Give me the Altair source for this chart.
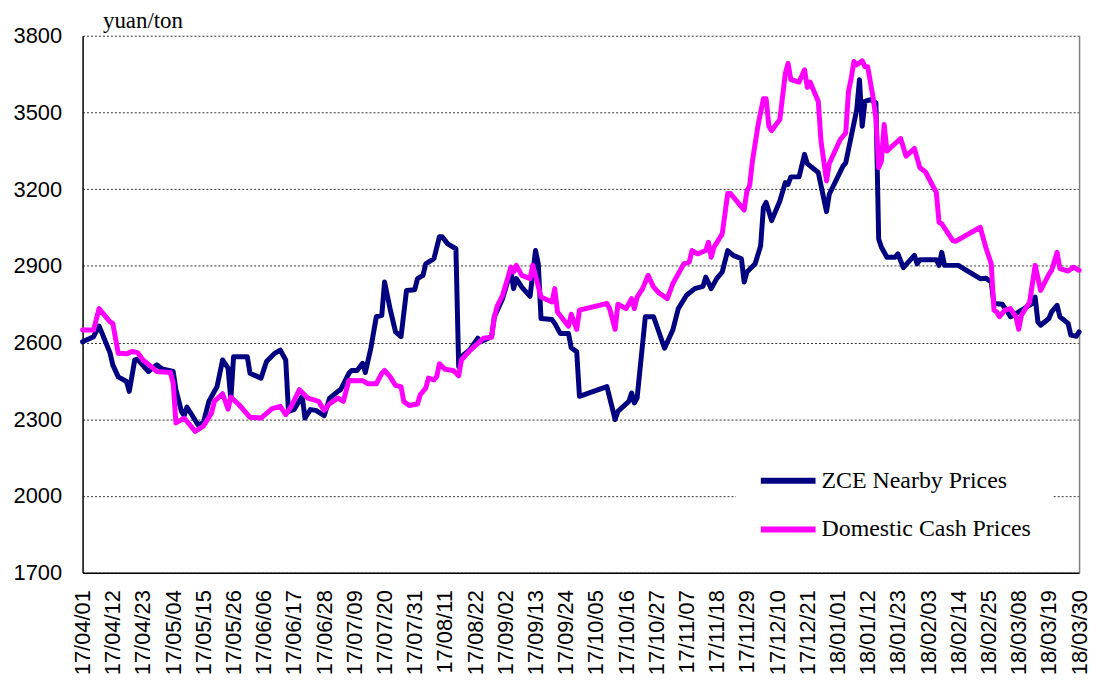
import altair as alt
import pandas as pd

series_names = ["ZCE Nearby Prices", "Domestic Cash Prices"]
series_colors = ["#000080", "#FF00FF"]
y_ticks = [1700, 2000, 2300, 2600, 2900, 3200, 3500, 3800]
x_tick_dates = [
    "2017-04-01", "2017-04-12", "2017-04-23", "2017-05-04", "2017-05-15", "2017-05-26",
    "2017-06-06", "2017-06-17", "2017-06-28", "2017-07-09", "2017-07-20", "2017-07-31",
    "2017-08-11", "2017-08-22", "2017-09-02", "2017-09-13", "2017-09-24", "2017-10-05",
    "2017-10-16", "2017-10-27", "2017-11-07", "2017-11-18", "2017-11-29", "2017-12-10",
    "2017-12-21", "2018-01-01", "2018-01-12", "2018-01-23", "2018-02-03", "2018-02-14",
    "2018-02-25", "2018-03-08", "2018-03-19", "2018-03-30",
]

zce_dates = [
    "2017-04-01", "2017-04-05", "2017-04-07", "2017-04-11", "2017-04-12", "2017-04-14", "2017-04-17", "2017-04-18", "2017-04-20", "2017-04-21",
    "2017-04-25", "2017-04-28", "2017-04-30", "2017-05-04", "2017-05-05", "2017-05-07", "2017-05-08", "2017-05-09", "2017-05-11", "2017-05-13",
    "2017-05-15", "2017-05-17", "2017-05-20", "2017-05-22", "2017-05-24", "2017-05-25", "2017-05-26", "2017-05-31", "2017-06-01", "2017-06-05",
    "2017-06-07", "2017-06-10", "2017-06-12", "2017-06-14", "2017-06-15", "2017-06-17", "2017-06-20", "2017-06-21", "2017-06-23", "2017-06-25",
    "2017-06-28", "2017-06-30", "2017-07-03", "2017-07-04", "2017-07-07", "2017-07-08", "2017-07-10", "2017-07-12", "2017-07-13", "2017-07-15",
    "2017-07-17", "2017-07-19", "2017-07-20", "2017-07-22", "2017-07-24", "2017-07-26", "2017-07-28", "2017-07-31", "2017-08-01", "2017-08-03",
    "2017-08-04", "2017-08-07", "2017-08-09", "2017-08-10", "2017-08-12", "2017-08-15", "2017-08-16", "2017-08-17", "2017-08-20", "2017-08-23",
    "2017-08-24", "2017-08-28", "2017-08-29", "2017-09-01", "2017-09-04", "2017-09-05", "2017-09-06", "2017-09-08", "2017-09-11", "2017-09-13",
    "2017-09-14", "2017-09-15", "2017-09-19", "2017-09-20", "2017-09-22", "2017-09-25", "2017-09-26", "2017-09-28", "2017-09-29", "2017-10-09",
    "2017-10-12", "2017-10-13", "2017-10-17", "2017-10-18", "2017-10-19", "2017-10-20", "2017-10-23", "2017-10-26", "2017-10-30", "2017-11-02",
    "2017-11-04", "2017-11-07", "2017-11-10", "2017-11-13", "2017-11-14", "2017-11-16", "2017-11-18", "2017-11-20", "2017-11-22", "2017-11-24",
    "2017-11-27", "2017-11-28", "2017-11-29", "2017-12-02", "2017-12-04", "2017-12-05", "2017-12-06", "2017-12-08", "2017-12-11", "2017-12-13",
    "2017-12-14", "2017-12-15", "2017-12-18", "2017-12-20", "2017-12-21", "2017-12-25", "2017-12-28", "2017-12-29", "2018-01-03", "2018-01-04",
    "2018-01-06", "2018-01-08", "2018-01-09", "2018-01-10", "2018-01-11", "2018-01-13", "2018-01-15", "2018-01-16", "2018-01-17", "2018-01-19",
    "2018-01-22", "2018-01-23", "2018-01-25", "2018-01-29", "2018-01-30", "2018-01-31", "2018-02-06", "2018-02-07", "2018-02-08", "2018-02-09",
    "2018-02-14", "2018-02-17", "2018-02-22", "2018-02-24", "2018-02-26", "2018-02-27", "2018-03-02", "2018-03-04", "2018-03-05", "2018-03-08",
    "2018-03-10", "2018-03-13", "2018-03-14", "2018-03-15", "2018-03-16", "2018-03-19", "2018-03-20", "2018-03-22", "2018-03-23", "2018-03-26",
    "2018-03-27", "2018-03-29", "2018-03-30",
]
zce_values = [
    2603, 2623, 2665, 2560, 2513, 2466, 2448, 2409, 2532, 2535,
    2487, 2513, 2497, 2487, 2416, 2331, 2314, 2348, 2314, 2279,
    2286, 2370, 2428, 2532, 2500, 2377, 2545, 2545, 2480, 2461,
    2526, 2558, 2571, 2532, 2331, 2338, 2390, 2305, 2338, 2335,
    2314, 2383, 2409, 2416, 2480, 2491, 2491, 2519, 2483, 2578,
    2701, 2707, 2837, 2733, 2642, 2623, 2804, 2807, 2850, 2863,
    2908, 2928, 3014, 3014, 2986, 2967, 2506, 2545, 2571, 2617,
    2603, 2623, 2701, 2772, 2882, 2811, 2850, 2817, 2781, 2960,
    2908, 2694, 2690, 2675, 2636, 2636, 2580, 2564, 2390, 2428,
    2299, 2331, 2370, 2403, 2364, 2383, 2701, 2701, 2578, 2649,
    2733, 2785, 2811, 2820, 2856, 2811, 2850, 2876, 2960, 2941,
    2928, 2837, 2876, 2908, 2979, 3128, 3148, 3077, 3154, 3226,
    3219, 3248, 3248, 3336, 3300, 3265, 3112, 3180, 3290, 3303,
    3407, 3511, 3628, 3446, 3543, 3550, 3537, 3005, 2973, 2934,
    2934, 2947, 2893, 2941, 2908, 2924, 2924, 2902, 2953, 2902,
    2902, 2882, 2850, 2852, 2837, 2753, 2750, 2720, 2701, 2720,
    2733, 2753, 2778, 2681, 2668, 2694, 2720, 2746, 2701, 2675,
    2629, 2625, 2642,
]

cash_dates = [
    "2017-04-01", "2017-04-05", "2017-04-07", "2017-04-11", "2017-04-12", "2017-04-14", "2017-04-17", "2017-04-19", "2017-04-21", "2017-04-23",
    "2017-04-26", "2017-04-28", "2017-05-03", "2017-05-04", "2017-05-05", "2017-05-08", "2017-05-10", "2017-05-12", "2017-05-15", "2017-05-18",
    "2017-05-19", "2017-05-22", "2017-05-24", "2017-05-25", "2017-05-28", "2017-06-01", "2017-06-05", "2017-06-09", "2017-06-12", "2017-06-14",
    "2017-06-16", "2017-06-19", "2017-06-22", "2017-06-24", "2017-06-26", "2017-06-28", "2017-06-30", "2017-07-03", "2017-07-05", "2017-07-07",
    "2017-07-12", "2017-07-14", "2017-07-17", "2017-07-19", "2017-07-20", "2017-07-22", "2017-07-24", "2017-07-26", "2017-07-27", "2017-07-29",
    "2017-08-01", "2017-08-02", "2017-08-04", "2017-08-05", "2017-08-07", "2017-08-08", "2017-08-09", "2017-08-11", "2017-08-14", "2017-08-16",
    "2017-08-17", "2017-08-20", "2017-08-23", "2017-08-25", "2017-08-28", "2017-08-29", "2017-08-30", "2017-09-01", "2017-09-03", "2017-09-04",
    "2017-09-05", "2017-09-06", "2017-09-08", "2017-09-11", "2017-09-12", "2017-09-15", "2017-09-19", "2017-09-20", "2017-09-21", "2017-09-25",
    "2017-09-26", "2017-09-28", "2017-09-29", "2017-10-09", "2017-10-10", "2017-10-12", "2017-10-13", "2017-10-16", "2017-10-18", "2017-10-19",
    "2017-10-20", "2017-10-22", "2017-10-24", "2017-10-26", "2017-10-28", "2017-10-31", "2017-11-02", "2017-11-06", "2017-11-08", "2017-11-09",
    "2017-11-11", "2017-11-14", "2017-11-15", "2017-11-16", "2017-11-17", "2017-11-20", "2017-11-21", "2017-11-22", "2017-11-23", "2017-11-28",
    "2017-11-29", "2017-11-30", "2017-12-01", "2017-12-03", "2017-12-05", "2017-12-06", "2017-12-07", "2017-12-08", "2017-12-11", "2017-12-13",
    "2017-12-14", "2017-12-15", "2017-12-18", "2017-12-20", "2017-12-21", "2017-12-22", "2017-12-25", "2017-12-26", "2017-12-28", "2017-12-29",
    "2018-01-02", "2018-01-03", "2018-01-04", "2018-01-05", "2018-01-06", "2018-01-07", "2018-01-08", "2018-01-10", "2018-01-11", "2018-01-12",
    "2018-01-14", "2018-01-15", "2018-01-16", "2018-01-17", "2018-01-18", "2018-01-19", "2018-01-24", "2018-01-26", "2018-01-29", "2018-01-31",
    "2018-02-02", "2018-02-06", "2018-02-07", "2018-02-08", "2018-02-12", "2018-02-13", "2018-02-22", "2018-02-24", "2018-02-26", "2018-02-27",
    "2018-02-28", "2018-03-01", "2018-03-03", "2018-03-05", "2018-03-07", "2018-03-08", "2018-03-09", "2018-03-12", "2018-03-14", "2018-03-16",
    "2018-03-19", "2018-03-20", "2018-03-22", "2018-03-23", "2018-03-26", "2018-03-28", "2018-03-30",
]
cash_values = [
    2649, 2649, 2733, 2681, 2675, 2558, 2556, 2565, 2561, 2532,
    2506, 2487, 2483, 2442, 2286, 2305, 2279, 2253, 2273, 2325,
    2370, 2400, 2340, 2387, 2357, 2308, 2305, 2342, 2351, 2318,
    2351, 2416, 2383, 2377, 2370, 2335, 2361, 2383, 2370, 2452,
    2451, 2439, 2439, 2480, 2491, 2467, 2432, 2428, 2370, 2354,
    2360, 2396, 2422, 2461, 2454, 2467, 2517, 2496, 2491, 2470,
    2532, 2568, 2597, 2617, 2621, 2701, 2742, 2785, 2856, 2895,
    2876, 2902, 2863, 2850, 2902, 2778, 2759, 2811, 2720, 2664,
    2711, 2652, 2727, 2753, 2733, 2652, 2750, 2733, 2772, 2733,
    2778, 2811, 2863, 2817, 2794, 2772, 2830, 2908, 2915, 2960,
    2947, 2960, 2992, 2934, 2973, 3025, 3103, 3183, 3183, 3118,
    3193, 3213, 3310, 3446, 3554, 3554, 3446, 3429, 3472, 3653,
    3692, 3628, 3619, 3667, 3598, 3619, 3543, 3388, 3232, 3300,
    3394, 3407, 3420, 3582, 3634, 3699, 3686, 3702, 3679, 3679,
    3556, 3478, 3284, 3310, 3453, 3349, 3398, 3329, 3359, 3284,
    3268, 3187, 3070, 3064, 2999, 2996, 3051, 2973, 2908, 2727,
    2720, 2701, 2727, 2733, 2701, 2652, 2707, 2759, 2902, 2804,
    2867, 2882, 2953, 2889, 2880, 2895, 2882,
]


def to_dt(s):
    y, m, d = (int(p) for p in s.split("-"))
    return alt.DateTime(year=y, month=m, date=d)


zce_df = pd.DataFrame({
    "date": [d + "T00:00:00" for d in zce_dates],
    "price": zce_values,
    "series": series_names[0],
})
cash_df = pd.DataFrame({
    "date": [d + "T00:00:00" for d in cash_dates],
    "price": cash_values,
    "series": series_names[1],
})

x_enc = alt.X(
    "date:T",
    title=None,
    scale=alt.Scale(domain=[to_dt(x_tick_dates[0]), to_dt(x_tick_dates[-1])]),
    axis=alt.Axis(
        values=[to_dt(d) for d in x_tick_dates],
        format="%y/%m/%d",
        labelAngle=-90,
        labelFont="Liberation Sans",
        labelFontSize=22,
        labelColor="black",
        labelPadding=17,
        labelOverlap=False,
        labelFlush=False,
        labelBound=False,
        ticks=False,
        grid=False,
        domainColor="black",
        domainWidth=1.5,
    ),
)

y_scale = alt.Scale(domain=[1700, 3800], nice=False, zero=False)

color_enc = alt.Color(
    "series:N",
    scale=alt.Scale(domain=series_names, range=series_colors),
    legend=alt.Legend(
        title=None,
        orient="none",
        legendX=657,
        legendY=395,
        fillColor="white",
        padding=22,
        labelFont="Liberation Serif",
        labelFontSize=24,
        labelColor="black",
        labelOffset=3,
        labelLimit=400,
        symbolType="stroke",
        symbolSize=3025,
        symbolStrokeWidth=6,
        rowPadding=6,
    ),
)

zce_layer = alt.Chart(zce_df).mark_line(strokeWidth=5, strokeJoin="round", strokeCap="round").encode(
    x=x_enc,
    y=alt.Y(
        "price:Q",
        scale=y_scale,
        axis=alt.Axis(
            values=y_ticks,
            format="d",
            title="yuan/ton",
            titleAngle=0,
            titleX=20,
            titleY=-8,
            titleAlign="left",
            titleBaseline="alphabetic",
            titleFont="Liberation Serif",
            titleFontSize=23,
            titleFontWeight="normal",
            titleColor="black",
            labelFont="Liberation Sans",
            labelFontSize=22,
            labelColor="black",
            labelPadding=21,
            ticks=False,
            domainColor="black",
            domainWidth=1.5,
            grid=True,
            gridColor="#333333",
            gridDash=[2, 2],
            gridWidth=1,
        ),
    ),
    color=color_enc,
)

cash_layer = alt.Chart(cash_df).mark_line(strokeWidth=5, strokeJoin="round", strokeCap="round").encode(
    x=x_enc,
    y=alt.Y(
        "price:Q",
        scale=y_scale,
        axis=alt.Axis(
            orient="right",
            title=None,
            labels=False,
            ticks=False,
            grid=False,
            domainColor="#808080",
            domainWidth=1.5,
        ),
    ),
    color=color_enc,
)

chart = (
    alt.layer(zce_layer, cash_layer)
    .resolve_scale(y="independent")
    .properties(
        width=1002,
        height=540,
        autosize=alt.AutoSizeParams(type="none"),
        padding={"left": 75, "top": 26, "right": 13, "bottom": 112},
    )
    .configure_view(stroke=None)
)

chart.save("out.html", embed_options={"renderer": "svg", "actions": False})
